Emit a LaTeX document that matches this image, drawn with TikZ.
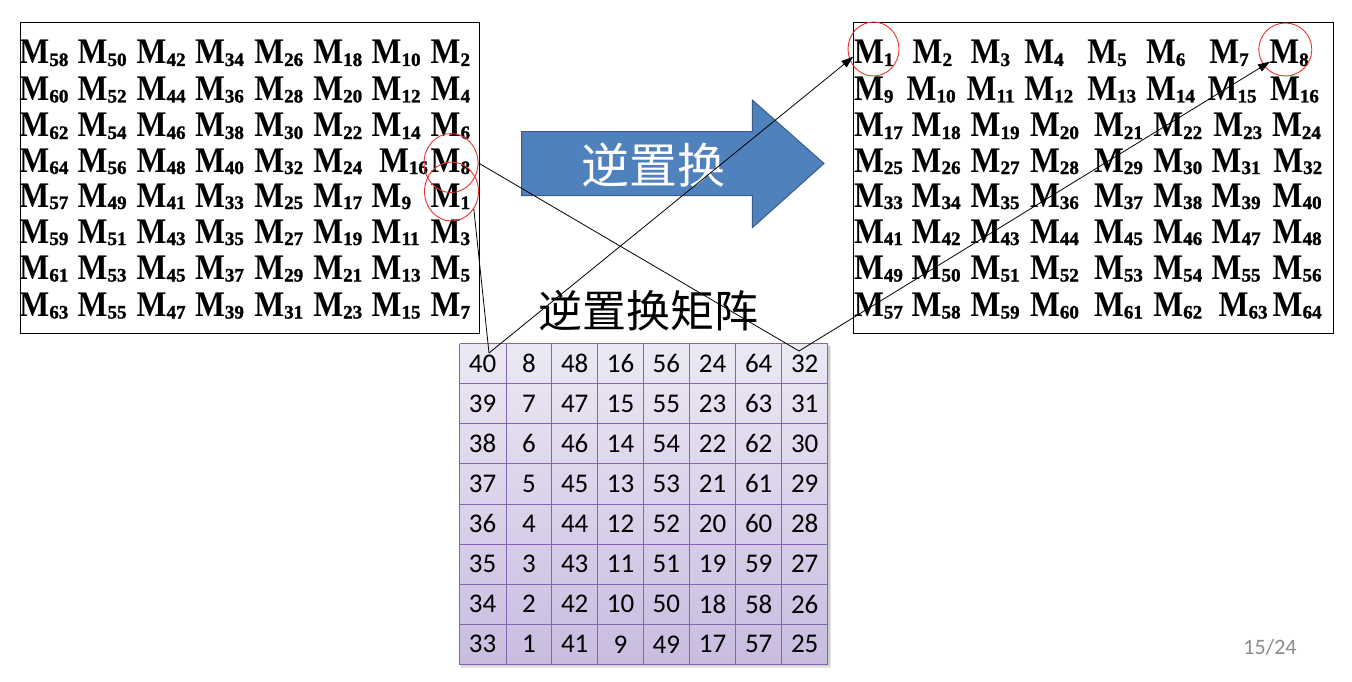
\documentclass[tikz,border=0pt]{standalone}
\usepackage{fontspec}
\setmainfont{Liberation Serif}
\newfontfamily\mfont[FakeStretch=0.88]{Liberation Serif}
\newfontfamily\subfont[FakeBold=1.5]{Liberation Serif}
\newfontfamily\cjk{Noto Sans CJK SC}
\newfontfamily\numfont{Carlito}
\usetikzlibrary{arrows.meta,shapes.geometric}
\definecolor{arrowblue}{HTML}{4F81BD}
\definecolor{arrowedge}{HTML}{385D8A}
\definecolor{cellline}{HTML}{8466B0}
\definecolor{celltop}{HTML}{ECE8F4}
\definecolor{cellbot}{HTML}{C9BCE0}
\definecolor{circred}{HTML}{E8352C}
\definecolor{pagegray}{HTML}{8C8C8C}
\newcommand{\Mel}[1]{{\mfont\bfseries\fontsize{36}{36}\selectfont M\raisebox{-2pt}{\subfont\bfseries\fontsize{19}{19}\selectfont #1}}}
\tikzset{
  mel/.style={anchor=base west, inner sep=0pt, outer sep=0pt},
  matbox/.style={draw=black, line width=1pt, anchor=north west, inner sep=0pt},
  redcirc/.style={ellipse, draw=circred, line width=0.9pt, inner sep=0pt},
  conn/.style={draw=black, line width=0.8pt},
  tipconn/.style={conn, -{Triangle[length=12pt,width=8pt]}},
  numcell/.style={inner sep=0pt, font=\numfont\fontsize{27}{27}\selectfont},
}
\begin{document}
\begin{tikzpicture}[x=1pt,y=-1pt]
\fill[white] (0,0) rectangle (1352,682);
\useasboundingbox (0,0) rectangle (1352,682);

% matrix boxes
\node[matbox, minimum width=459.5pt, minimum height=311pt] (LB) at (19.5,22) {};
\node[matbox, minimum width=480pt, minimum height=311pt] (RB) at (853,22) {};

% left matrix
\foreach \r/\y/\f/\xs in {
  1/64/58/{19.5,77.7,136.7,195,254.3,313.3,371.7,430.7},
  2/100.5/60/{19.5,77.7,136.7,195,254.3,313.3,371.7,430.7},
  3/137/62/{19.5,77.7,136.7,195,254.3,313.3,371.7,430.7},
  4/172/64/{19.5,77.7,136.7,195,254.3,313.3,379,430.7},
  5/207/57/{19.5,77.7,136.7,195,254.3,313.3,371.7,430.7},
  6/243/59/{19.5,77.7,136.7,195,254.3,313.3,371.7,430.7},
  7/279.5/61/{19.5,77.7,136.7,195,254.3,313.3,371.7,430.7},
  8/316.5/63/{19.5,77.7,136.7,195,254.3,313.3,371.7,430.7}}{
  \foreach \x [count=\c] in \xs {
    \pgfmathtruncatemacro\v{\f-8*(\c-1)}
    \node[mel] (L-\r-\c) at (\x,\y) {\Mel{\v}};
  }
}

% right matrix
\foreach \r/\y/\xs in {
  1/64/{854,912.7,970.7,1024.3,1087.3,1146,1209.3,1269.3},
  2/100.5/{854,906.7,966.7,1024.3,1087.3,1146,1207.7,1270},
  3/137/{854,911.7,970.7,1030,1094,1153.3,1213.3,1272},
  4/172/{854,911.7,970.7,1030,1094,1153.3,1211.7,1273.3},
  5/207/{854,911.7,970.7,1030,1094,1153.3,1211.7,1272.7},
  6/243/{854,911.7,970.7,1030,1094,1153.3,1211.7,1272.7},
  7/279.5/{854,911.7,970.7,1030,1094,1153.3,1211.7,1272.7},
  8/316.5/{854,911.7,970.7,1030,1094,1153.3,1218.7,1272.7}}{
  \foreach \x [count=\c] in \xs {
    \pgfmathtruncatemacro\v{8*(\r-1)+\c}
    \node[mel] (R-\r-\c) at (\x,\y) {\Mel{\v}};
  }
}

% red circles
\node[redcirc, minimum width=54pt, minimum height=59pt] (cL8) at (451,163) {};
\node[redcirc, minimum width=54pt, minimum height=59pt] (cL1) at (451.5,191.5) {};
\node[redcirc, minimum width=51pt, minimum height=54pt] (cR1) at (873.5,49) {};
\node[redcirc, minimum width=53pt, minimum height=53pt] (cR8) at (1285.3,49.5) {};

% blue arrow
\filldraw[fill=arrowblue, draw=arrowedge, line width=1pt]
  (521.7,131.7) -- (752.3,131.7) -- (752.3,100) -- (824,163.5)
  -- (752.3,227.7) -- (752.3,195.7) -- (521.7,195.7) -- cycle;
\node[text=white, inner sep=0pt] (arrowtext) at (653,165) {\cjk\fontsize{48}{48}\selectfont 逆置换};

% label
\node[inner sep=0pt] (label) at (648,311) {\cjk\fontsize{44}{44}\selectfont 逆置换矩阵};

% table
\fill[black, opacity=0.10] (461,346) rectangle (831,668);
\fill[black, opacity=0.10] (460.5,345) rectangle (829.5,666);
\shade[top color=celltop, bottom color=cellbot] (459.5,343.5) rectangle (827.5,664.5);
\foreach \x in {459.5,506,551.5,597.5,643.5,689.5,735.5,781.5,827.5}
  \draw[cellline, line width=1pt] (\x,343.5) -- (\x,664.5);
\foreach \k in {0,...,8}
  \draw[cellline, line width=1pt] (459.5,343.5+40.125*\k) -- (827.5,343.5+40.125*\k);
\foreach \b/\xa/\xb [count=\c] in {41/459.3/506, 9/506/551.7, 49/551.7/597.7, 17/597.7/643.3,
    57/643.3/689.3, 25/689.3/735.7, 65/735.7/781.7, 33/781.7/827.7}{
  \foreach \r in {1,...,8}{
    \pgfmathtruncatemacro\v{\b-\r}
    \node[numcell] (T-\r-\c) at ({(\xa+\xb)/2},{343.3+40.125*(\r-0.5)}) {\v};
  }
}

% connectors
\coordinate (j40) at (489,353);
\coordinate (j32) at (799,351);
\coordinate (tR1) at (853.3,56.7);
\coordinate (tR8) at (1270,61.7);
\draw[conn] (cL8.east) -- (j32);
\draw[tipconn] (j32) -- (tR8);
\draw[conn] (cL1.-38) -- (j40);
\draw[tipconn] (j40) -- (tR1);

% page number
\node[text=pagegray, inner sep=0pt] (page) at (1270,647) {\numfont\fontsize{22}{22}\selectfont 15/24};
\end{tikzpicture}
\end{document}
